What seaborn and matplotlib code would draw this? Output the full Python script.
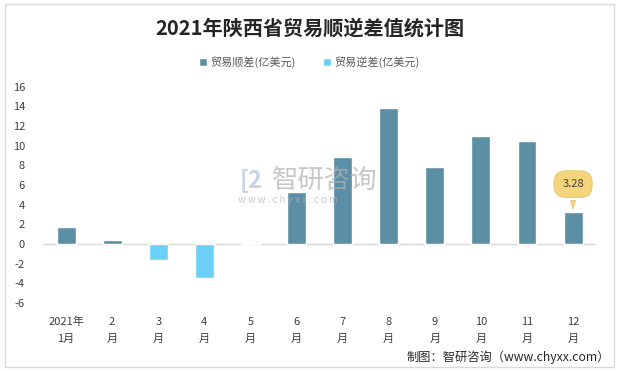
import numpy as np
import pandas as pd
import matplotlib
matplotlib.use('Agg')
import matplotlib.pyplot as plt
import seaborn as sns

months = ['2021年\n1月', '2\n月', '3\n月', '4\n月', '5\n月', '6\n月',
          '7\n月', '8\n月', '9\n月', '10\n月', '11\n月', '12\n月']
values = [1.73, 0.41, -1.63, -3.46, 0.15, 5.29, 8.85, 13.83, 7.83, 10.99, 10.48, 3.28]
series = ['贸易顺差(亿美元)', '贸易逆差(亿美元)']
colors = ['#5B8FA6', '#6CCFF6']

sns.set_theme(style='white')
plt.rcParams['font.family'] = ['Noto Sans CJK SC', 'DejaVu Sans']
plt.rcParams['axes.unicode_minus'] = False

df = pd.DataFrame({'month': months, 'value': values})
df['type'] = np.where(df['value'] >= 0, series[0], series[1])

fig = plt.figure(figsize=(6.19, 3.71), dpi=100)
ax = fig.add_axes([0.0695, 0.183, 0.8935, 0.583])

sns.barplot(data=df, x='month', y='value', hue='type', hue_order=series,
            palette=colors, dodge=False, width=0.41, ax=ax, saturation=1)
for p in ax.patches:
    p.set_zorder(3)
ax.axhline(0, color='#D9D9D9', lw=1.0, zorder=1)

ax.set_ylim(-6, 16)
ax.set_yticks(range(-6, 17, 2))
ax.set_xlim(-0.5, 11.5)
for s in ax.spines.values():
    s.set_visible(False)
ax.tick_params(axis='both', length=0, labelsize=8, colors='#404040')
ax.tick_params(axis='y', pad=13)
ax.tick_params(axis='x', pad=10)
for lbl in ax.get_xticklabels():
    lbl.set_linespacing(1.8)
ax.set_xlabel('')
ax.set_ylabel('')

# callout on the last bar
ax.annotate('3.28', xy=(11, values[-1]), xytext=(11, 6.1), ha='center', va='center',
            fontsize=8, color='#404040', zorder=4,
            bbox=dict(boxstyle='round,pad=0.75,rounding_size=1.1', fc='#F6D47C', ec='#E8C46A', lw=0.6),
            arrowprops=dict(arrowstyle='wedge,tail_width=0.45,shrink_factor=0.5',
                            fc='#F6D47C', ec='#E8C46A', lw=0.6))

leg = ax.legend(loc='center', bbox_to_anchor=(0.5, 0.833), bbox_transform=fig.transFigure,
                ncol=2, frameon=False, fontsize=8, handlelength=0.7, handleheight=0.7,
                handletextpad=0.3, columnspacing=2.5)
for t in leg.get_texts():
    t.set_color('#595959')

fig.text(0.5, 0.925, '2021年陕西省贸易顺逆差值统计图', ha='center', va='center',
         fontsize=14.5, fontweight='bold', color='#262626')

# watermark
fig.text(0.44, 0.515, '智研咨询', ha='left', va='center', fontsize=19, color='#B0B0B0', alpha=0.7)
fig.text(0.385, 0.46, 'w w w . c h y x x . c o m', ha='left', va='center', fontsize=7,
         color='#B0B0B0', alpha=0.7)
fig.text(0.405, 0.515, '[2', ha='center', va='center', fontsize=17, color='#C5D3E3', fontweight='bold')

fig.text(0.985, 0.037, '制图：智研咨询（www.chyxx.com）', ha='right', va='center',
         fontsize=8.8, color='#262626')

fig.patches.append(plt.Rectangle((0.008, 0.012), 0.984, 0.976, transform=fig.transFigure,
                                 fill=False, ec='#D9D9D9', lw=1))

fig.savefig('out.png', dpi=100)
